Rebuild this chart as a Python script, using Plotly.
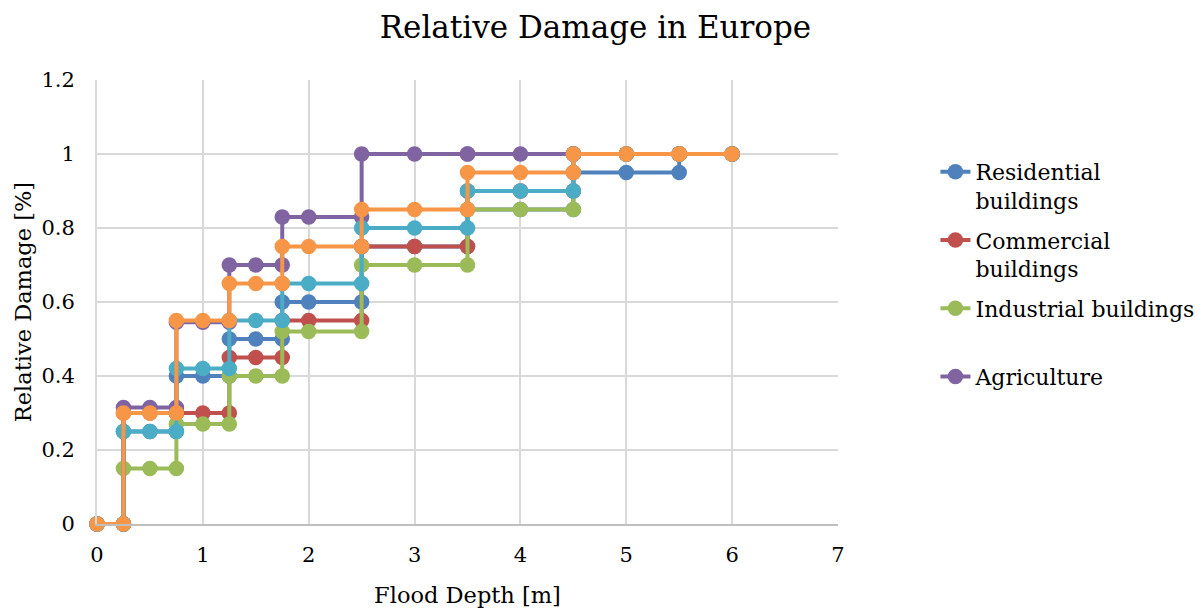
import plotly.graph_objects as go

depth = [0, 0.25, 0.25, 0.5, 0.75, 0.75, 1, 1.25, 1.25, 1.5, 1.75, 1.75, 2,
         2.5, 2.5, 3, 3.5, 3.5, 4, 4.5, 4.5, 5, 5.5, 5.5, 6]

residential = [0, 0, 0.25, 0.25, 0.25, 0.40, 0.40, 0.40, 0.50, 0.50, 0.50, 0.60, 0.60,
               0.60, 0.75, 0.75, 0.75, 0.85, 0.85, 0.85, 0.95, 0.95, 0.95, 1.0, 1.0]
commercial = [0, 0, 0.30, 0.30, 0.30, 0.30, 0.30, 0.30, 0.45, 0.45, 0.45, 0.55, 0.55,
              0.55, 0.75, 0.75, 0.75, 0.90, 0.90, 0.90, 1.0, 1.0, 1.0, 1.0, 1.0]
industrial = [0, 0, 0.15, 0.15, 0.15, 0.27, 0.27, 0.27, 0.40, 0.40, 0.40, 0.52, 0.52,
              0.52, 0.70, 0.70, 0.70, 0.85, 0.85, 0.85, 1.0, 1.0, 1.0, 1.0, 1.0]
agriculture = [0, 0, 0.315, 0.315, 0.315, 0.545, 0.545, 0.545, 0.70, 0.70, 0.70, 0.83, 0.83,
               0.83, 1.0, 1.0, 1.0, 1.0, 1.0, 1.0, 1.0, 1.0, 1.0, 1.0, 1.0]
series5 = [0, 0, 0.25, 0.25, 0.25, 0.42, 0.42, 0.42, 0.55, 0.55, 0.55, 0.65, 0.65,
           0.65, 0.80, 0.80, 0.80, 0.90, 0.90, 0.90, 1.0, 1.0, 1.0, 1.0, 1.0]
series6 = [0, 0, 0.30, 0.30, 0.30, 0.55, 0.55, 0.55, 0.65, 0.65, 0.65, 0.75, 0.75,
           0.75, 0.85, 0.85, 0.85, 0.95, 0.95, 0.95, 1.0, 1.0, 1.0, 1.0, 1.0]

series = [
    ("Residential<br>buildings", residential, "#4F81BD", True),
    ("Commercial<br>buildings", commercial, "#C0504D", True),
    ("Industrial buildings<br>&nbsp;", industrial, "#9BBB59", True),
    ("Agriculture", agriculture, "#8064A2", True),
    ("Series5", series5, "#4BACC6", False),
    ("Series6", series6, "#F79646", False),
]

FONT = "DejaVu Serif"

fig = go.Figure()
for i, (name, vals, color, show) in enumerate(series):
    fig.add_trace(go.Scatter(
        x=depth, y=vals, name=name, mode="lines+markers",
        line=dict(color=color, width=4),
        marker=dict(color=color, size=15.5),
        showlegend=show, legendgroup=f"g{i}", cliponaxis=False,
    ))

fig.update_layout(
    width=1204, height=608,
    margin=dict(l=97, r=366, t=80, b=84, autoexpand=False),
    paper_bgcolor="white", plot_bgcolor="white",
    font=dict(family=FONT, color="#000000", size=21),
    title=dict(text="Relative Damage in Europe", x=0.4946, xanchor="center",
               y=0.955, yanchor="middle", font=dict(size=31, family=FONT)),
    legend=dict(x=1.1315, xanchor="left", y=0.84, yanchor="top",
                font=dict(size=22, family=FONT), bgcolor="rgba(0,0,0,0)",
                tracegroupgap=8, valign="top"),
    xaxis=dict(range=[0, 7], dtick=1, showgrid=True, gridcolor="#D9D9D9", gridwidth=2,
               zeroline=False, showline=True, linecolor="#BFBFBF", linewidth=2,
               ticks="", tickfont=dict(size=21), ticklabelstandoff=11, automargin=False,
               title=dict(text="Flood Depth [m]", font=dict(size=22.5), standoff=24)),
    yaxis=dict(range=[0, 1.2], dtick=0.2, showgrid=True, gridcolor="#D9D9D9", gridwidth=2,
               zeroline=False, showline=True, linecolor="#D9D9D9", linewidth=2,
               ticks="", tickfont=dict(size=21), ticklabelstandoff=16, automargin=False,
               title=dict(text="Relative Damage [%]", font=dict(size=22.5), standoff=4)),
)

fig.write_html("out.html", config={"displayModeBar": False},
               post_script="document.body.style.margin='0';")
